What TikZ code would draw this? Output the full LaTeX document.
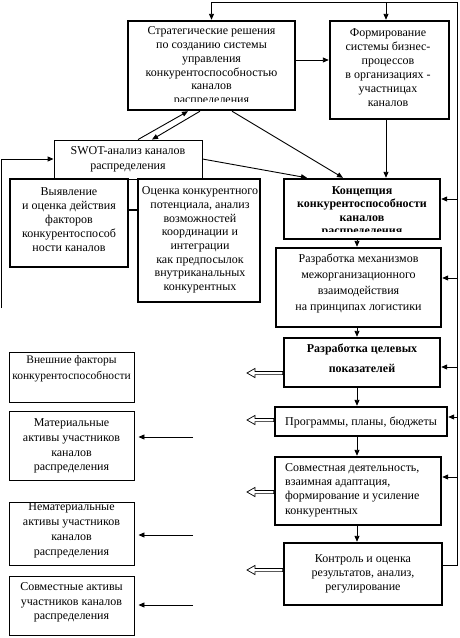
\documentclass[tikz,border=0pt]{standalone}
\usepackage{fontspec}
\setmainfont{Liberation Serif}
\usetikzlibrary{arrows.meta,calc}
\newcommand\hollowarr[3]{%
 \coordinate (ht) at (#2,#3);
 \draw[hollow] (ht) -- ++(8,-4.6) -- ++(0,3) -- ($(#1 |- ht)+(0,-1.6)$) -- ($(#1 |- ht)+(0,1.6)$) -- ($(ht)+(8,1.6)$) -- ($(ht)+(8,4.6)$) -- cycle;}
\begin{document}
\begin{tikzpicture}[x=1pt,y=-1pt,
  thickbox/.style={draw, line width=2.4pt, fill=white, inner sep=0pt},
  thinbox/.style={draw, line width=0.9pt, fill=white, inner sep=0pt},
  txt/.style={inner sep=0pt, align=center, font=\fontsize{12}{13.7}\selectfont},
  conn/.style={line width=0.9pt},
  arr/.style={conn, -{Triangle[length=6pt,width=5pt]}},
  hollow/.style={line width=0.7pt, fill=white}
]
\useasboundingbox (0,0) rectangle (460,638);
% boxes
\node[thickbox, minimum width=167pt, minimum height=89pt] (strat) at (211.5,65.5) {};
\node[thickbox, minimum width=119pt, minimum height=98pt] (form) at (389.5,70) {};
\node[thinbox, minimum width=148pt, minimum height=39pt] (swot) at (128,159.5) {};
\node[thickbox, minimum width=118pt, minimum height=88pt] (vyyav) at (69,223) {};
\node[thickbox, minimum width=122pt, minimum height=123pt] (ocenka) at (199,240.5) {};
\node[thickbox, minimum width=156pt, minimum height=60pt] (konc) at (362,209) {};
\node[thickbox, minimum width=165pt, minimum height=79pt] (mech) at (358.5,287.5) {};
\node[thickbox, minimum width=156pt, minimum height=49pt] (celev) at (362,362.5) {};
\node[thickbox, minimum width=172pt, minimum height=29pt] (progr) at (361,421.5) {};
\node[thickbox, minimum width=166pt, minimum height=68pt] (sovm) at (358,491) {};
\node[thickbox, minimum width=158pt, minimum height=62pt] (kontr) at (363,574) {};
\node[thinbox, minimum width=125pt, minimum height=50pt] (vnesh) at (71.5,377) {};
\node[thinbox, minimum width=125pt, minimum height=69pt] (mater) at (71.5,445.5) {};
\node[thinbox, minimum width=125pt, minimum height=63pt] (nemat) at (71.5,533.5) {};
\node[thinbox, minimum width=125pt, minimum height=59pt] (sovmakt) at (71.5,605.5) {};
% texts
\begin{scope}
\clip (strat.north west) rectangle ($(strat.south east)+(0,-10)$);
\node[txt] (tstrat) at (211.5,66.5) {Стратегические решения\\по созданию системы\\управления\\конкурентоспособностью\\каналов\\распределения};
\end{scope}
\node[txt, font=\fontsize{12}{14}\selectfont] (tform) at (388,68) {Формирование\\системы бизнес-\\процессов\\в организациях -\\участницах\\каналов};
\node[txt, font=\fontsize{12}{15}\selectfont] (tswot) at (128,159.5) {SWOT-анализ каналов\\распределения};
\node[txt, font=\fontsize{12}{14}\selectfont] (tvyyav) at (69,220) {Выявление\\и оценка действия\\факторов\\конкурентоспособ\\ности каналов};
\node[txt] (tocenka) at (200,240) {Оценка конкурентного\\потенциала, анализ\\возможностей\\координации и\\интеграции\\как предпосылок\\внутриканальных\\конкурентных};
\begin{scope}
\clip (konc.north west) rectangle ($(konc.south east)+(0,-9)$);
\node[txt, font=\bfseries\fontsize{12}{13.5}\selectfont] (tkonc) at (362,212) {Концепция\\конкурентоспособности\\каналов\\распределения};
\end{scope}
\node[txt, font=\fontsize{12}{16}\selectfont] (tmech) at (358.5,283) {Разработка механизмов\\межорганизационного\\взаимодействия\\на принципах логистики};
\node[txt, font=\bfseries\fontsize{12}{20}\selectfont] (tcelev) at (362,358) {Разработка целевых\\показателей};
\node[txt] (tprogr) at (361,422) {Программы, планы, бюджеты};
\node[txt, align=left, anchor=west, font=\fontsize{12}{14.3}\selectfont] (tsovm) at (285,490) {Совместная деятельность,\\взаимная адаптация,\\формирование и усиление\\конкурентных};
\node[txt, font=\fontsize{12}{14}\selectfont] (tkontr) at (363,574) {Контроль и оценка\\результатов, анализ,\\регулирование};
\node[txt, font=\fontsize{11.5}{16}\selectfont] (tvnesh) at (71.5,369) {Внешние факторы\\конкурентоспособности};
\node[txt, font=\fontsize{12}{14.7}\selectfont] (tmater) at (71.5,446) {Материальные\\активы участников\\каналов\\распределения};
\node[txt, font=\fontsize{12}{15}\selectfont] (tnemat) at (71.5,530.5) {Нематериальные\\активы участников\\каналов\\распределения};
\node[txt, font=\fontsize{12}{14.5}\selectfont] (tsovmakt) at (71.5,602.5) {Совместные активы\\участников каналов\\распределения};
% feedback loop on the right
\coordinate (fbB) at (457,565);
\coordinate (fbT) at (457,2);
\coordinate (lft) at (1,308);
\draw[arr] (kontr.east |- fbB) -- (fbB) -- (fbT) -| (strat.north);
\draw[arr] (386,2) -- (form.north -| 386,0);
\draw[arr] (fbT |- 0,199) -- (konc.east |- 0,199);
\draw[arr] (fbT |- 0,278) -- (mech.east |- 0,278);
\draw[arr] (fbT |- 0,367) -- (celev.east |- 0,367);
\draw[arr] (fbT |- 0,417) -- (progr.east |- 0,417);
\draw[arr] (fbT |- 0,477) -- (sovm.east |- 0,477);
% left loop
\draw[arr] (lft) -- (1,159) -- (swot.west |- 0,159);
% top connections
\draw[arr] (strat.east |- 0,60) -- (form.west |- 0,60);
\draw[arr] (form.south -| 386,0) -- (konc.north -| 386,0);
\draw[arr] (strat.south -| 232,0) -- (konc.north -| 343,0);
\draw[arr] (swot.east |- 0,159) -- (konc.north -| 307,0);
\draw[arr] (swot.north -| 138,0) -- (strat.south -| 188,0);
\draw[arr] (strat.south -| 200,0) -- (swot.north -| 152,0);
\draw[line width=2.4pt] (vyyav.east |- 0,210) -- (ocenka.west |- 0,210);
% main chain
\draw[arr] (konc.south -| 357,0) -- (mech.north -| 357,0);
\draw[arr] (mech.south -| 357,0) -- (celev.north -| 357,0);
\draw[arr] (celev.south -| 357,0) -- (progr.north -| 357,0);
\draw[arr] (progr.south -| 357,0) -- (sovm.north -| 357,0);
\draw[arr] (sovm.south -| 357,0) -- (kontr.north -| 357,0);
% left arrows
\draw[arr, shorten >=4pt] (193,437) -- (mater.east |- 0,437);
\draw[arr, shorten >=4pt] (193,535) -- (nemat.east |- 0,535);
\draw[arr, shorten >=4pt] (193,605) -- (sovmakt.east |- 0,605);
% hollow arrows
\hollowarr{celev.west}{247}{373}
\hollowarr{progr.west}{247}{420}
\hollowarr{sovm.west}{247}{492}
\hollowarr{kontr.west}{247}{570}
\end{tikzpicture}
\end{document}
